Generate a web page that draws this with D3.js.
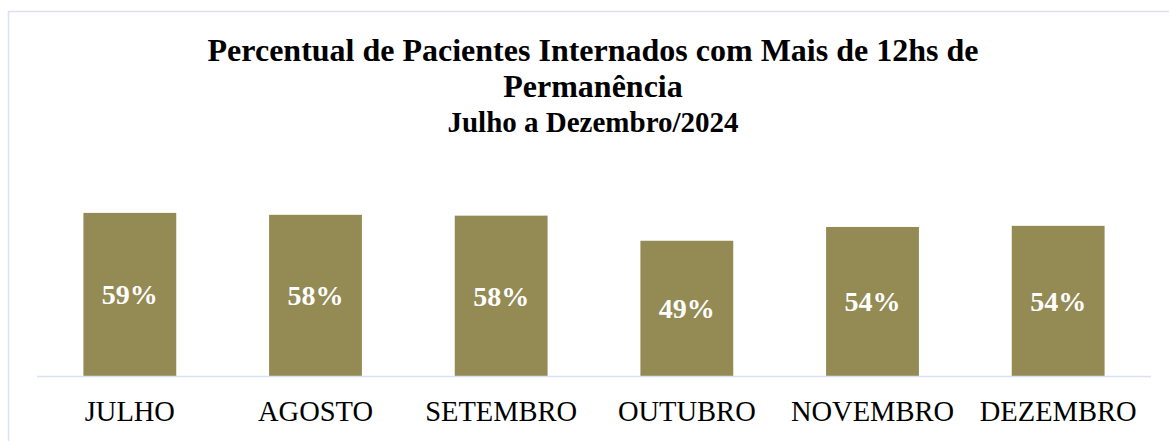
<!DOCTYPE html>
<html>
<head>
<meta charset="utf-8">
<script src="https://cdn.jsdelivr.net/npm/d3@7"></script>
<style>
  body { margin: 0; background: #fff; overflow: hidden; }
  svg { display: block; }
  svg text { font-family: "Liberation Serif", "Times New Roman", serif; }
</style>
</head>
<body>
<div id="chart"></div>
<script>
// Data
const months = ["JULHO", "AGOSTO", "SETEMBRO", "OUTUBRO", "NOVEMBRO", "DEZEMBRO"];
const percents = [0.591, 0.584, 0.581, 0.490, 0.540, 0.544];
const titleLines = ["Percentual de Pacientes Internados com Mais de 12hs de", "Permanência"];
const subtitle = "Julho a Dezembro/2024";

const width = 1169;
const height = 441;
const margin = { top: 100, right: 18, bottom: 65, left: 37 };
const innerWidth = width - margin.left - margin.right;
const innerHeight = height - margin.top - margin.bottom;

const barColor = "#948a54";
const lineColor = "#d9e2f3";

const data = months.map((m, i) => ({ month: m, value: percents[i] }));

const svg = d3.select("#chart")
    .append("svg")
    .attr("width", width)
    .attr("height", height);

// chart area border: only the top and left edges are in view
svg.append("path")
    .attr("d", `M8.5,${height} V11.5 H${width}`)
    .attr("fill", "none")
    .attr("stroke", lineColor)
    .attr("stroke-width", 1.5);

const innerChart = svg.append("g")
    .attr("transform", `translate(${margin.left},${margin.top})`);

const xScale = d3.scaleBand()
    .domain(months)
    .range([0, innerWidth])
    .paddingInner(0.5)
    .paddingOuter(0.25);

const yScale = d3.scaleLinear()
    .domain([0, 1])
    .range([innerHeight, innerHeight - 276]);

/* bars */
innerChart.selectAll("rect.bar")
    .data(data)
    .join("rect")
        .attr("class", "bar")
        .attr("x", d => xScale(d.month))
        .attr("y", d => yScale(d.value))
        .attr("width", xScale.bandwidth())
        .attr("height", d => innerHeight - yScale(d.value))
        .attr("fill", barColor);

/* value labels, centred in the bar */
const fmt = d3.format(".0%");
innerChart.selectAll("text.value")
    .data(data)
    .join("text")
        .attr("class", "value")
        .attr("x", d => xScale(d.month) + xScale.bandwidth() / 2)
        .attr("y", d => (yScale(d.value) + innerHeight) / 2)
        .attr("dy", "0.35em")
        .attr("text-anchor", "middle")
        .attr("fill", "#fff")
        .attr("font-weight", "bold")
        .attr("font-size", 28)
        .text(d => fmt(d.value));

/* x axis */
const xAxisGroup = innerChart.append("g")
    .attr("transform", `translate(0,${innerHeight})`)
    .call(d3.axisBottom(xScale).tickSize(0).tickPadding(25));

xAxisGroup.select(".domain").remove();
xAxisGroup.selectAll("text")
    .attr("font-size", 28.5)
    .attr("fill", "#000")
    .style("font-family", "'Liberation Serif', 'Times New Roman', serif");

xAxisGroup.append("line")
    .attr("x1", 0)
    .attr("x2", innerWidth)
    .attr("y1", 0.5)
    .attr("y2", 0.5)
    .attr("stroke", lineColor)
    .attr("stroke-width", 1.5);

/* title */
const cx = 593;
svg.selectAll("text.title")
    .data(titleLines)
    .join("text")
        .attr("class", "title")
        .attr("x", cx)
        .attr("y", (d, i) => 61 + i * 36)
        .attr("text-anchor", "middle")
        .attr("font-weight", "bold")
        .attr("font-size", 32)
        .text(d => d);

svg.append("text")
    .attr("x", cx)
    .attr("y", 132)
    .attr("text-anchor", "middle")
    .attr("font-weight", "bold")
    .attr("font-size", 29)
    .text(subtitle);
</script>
</body>
</html>
